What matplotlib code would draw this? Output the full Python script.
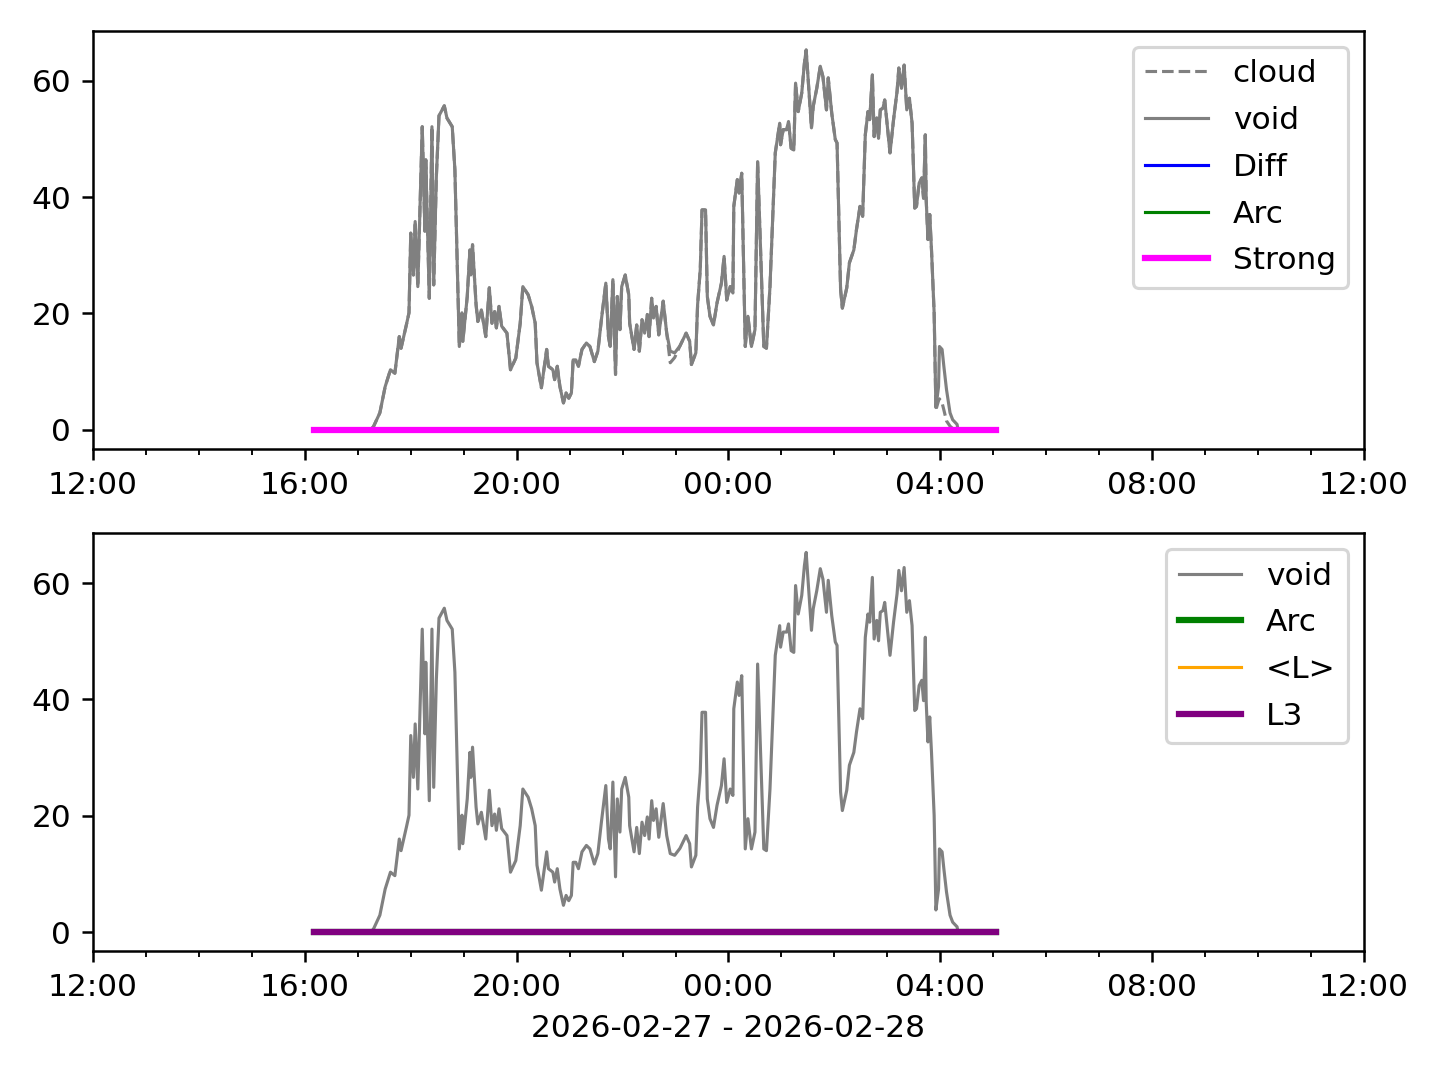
import datetime as dt
import matplotlib
matplotlib.use("Agg")
import matplotlib.pyplot as plt
import matplotlib.dates as mdates

day0 = dt.date(2026, 2, 27)
x_start = "12:00"
x_end = "12:00"

# void series (clock times, next day when hour < 12)
void_times = [
    "17:15", "17:18", "17:25", "17:31", "17:37", "17:42", "17:47", "17:49", "17:55", "17:58",
    "18:00", "18:03", "18:05", "18:08", "18:13", "18:16", "18:17", "18:21", "18:24", "18:26",
    "18:29", "18:32", "18:38", "18:41", "18:47", "18:50", "18:55", "18:58", "18:59", "19:04",
    "19:07", "19:08", "19:10", "19:14", "19:16", "19:20", "19:25", "19:29", "19:32", "19:35",
    "19:37", "19:40", "19:43", "19:49", "19:53", "19:59", "20:04", "20:07", "20:13", "20:17",
    "20:21", "20:23", "20:28", "20:34", "20:36", "20:41", "20:43", "20:46", "20:49", "20:53",
    "20:56", "20:59", "21:02", "21:04", "21:07", "21:10", "21:14", "21:19", "21:23", "21:28",
    "21:32", "21:36", "21:41", "21:44", "21:46", "21:49", "21:52", "21:54", "21:57", "21:59",
    "22:03", "22:07", "22:08", "22:13", "22:16", "22:19", "22:22", "22:25", "22:28", "22:30",
    "22:33", "22:35", "22:38", "22:41", "22:46", "22:50", "22:54", "22:59", "23:05", "23:12",
    "23:16", "23:18", "23:23", "23:25", "23:28", "23:30", "23:34", "23:36", "23:39", "23:43",
    "23:47", "23:52", "23:55", "23:58", "00:02", "00:05", "00:06", "00:10", "00:12", "00:15",
    "00:19", "00:22", "00:26", "00:30", "00:33", "00:40", "00:43", "00:47", "00:53", "00:58",
    "00:59", "01:02", "01:06", "01:08", "01:11", "01:14", "01:16", "01:19", "01:23", "01:26",
    "01:28", "01:34", "01:36", "01:40", "01:44", "01:47", "01:51", "01:53", "01:57", "02:01",
    "02:03", "02:07", "02:09", "02:14", "02:17", "02:22", "02:25", "02:29", "02:32", "02:35",
    "02:38", "02:40", "02:43", "02:45", "02:48", "02:50", "02:52", "02:55", "02:57", "03:00",
    "03:03", "03:07", "03:11", "03:13", "03:16", "03:19", "03:22", "03:25", "03:28", "03:31",
    "03:33", "03:36", "03:39", "03:41", "03:43", "03:44", "03:46", "03:48", "03:50", "03:53",
    "03:55", "03:58", "03:59", "04:02", "04:04", "04:07", "04:11", "04:14", "04:19", "04:20",
]
void_values = [
    0.0, 0.6, 2.9, 7.4, 10.3, 9.7, 16.0, 14.0, 18.0, 20.1,
    33.8, 26.6, 35.8, 24.6, 52.1, 34.1, 46.4, 22.6, 52.1, 24.9,
    43.5, 54.0, 55.7, 53.6, 52.1, 44.7, 14.3, 20.1, 15.2, 22.9,
    30.9, 26.6, 31.8, 21.5, 18.6, 20.6, 16.0, 24.4, 18.3, 20.3,
    17.5, 21.2, 17.8, 16.6, 10.3, 12.3, 18.3, 24.6, 23.2, 21.2,
    18.3, 11.5, 7.2, 13.8, 10.9, 10.3, 8.6, 10.9, 7.4, 4.6,
    6.3, 5.4, 6.3, 12.0, 12.0, 10.9, 13.8, 14.9, 14.3, 11.7,
    13.5, 18.9, 25.2, 16.0, 14.3, 25.8, 9.5, 22.9, 17.2, 24.6,
    26.6, 23.2, 18.3, 13.8, 18.0, 13.5, 18.9, 16.6, 19.8, 16.0,
    22.6, 19.2, 21.2, 16.3, 22.1, 16.6, 13.5, 13.2, 14.4, 16.6,
    15.2, 11.2, 13.2, 21.5, 27.5, 37.8, 37.8, 22.9, 19.5, 18.0,
    21.8, 25.2, 29.8, 22.3, 24.6, 23.5, 38.4, 43.0, 40.7, 44.1,
    14.3, 19.5, 14.3, 17.2, 46.1, 14.3, 14.0, 24.6, 47.6, 52.7,
    49.0, 51.6, 51.6, 53.0, 48.4, 48.1, 59.6, 54.7, 57.9, 63.0,
    65.3, 51.9, 55.6, 58.7, 62.5, 60.7, 55.0, 60.5, 54.4, 49.9,
    49.3, 24.1, 20.9, 24.4, 28.7, 30.9, 34.4, 38.4, 36.7, 50.7,
    54.7, 53.3, 61.0, 50.4, 53.6, 50.1, 55.0, 55.3, 56.7, 52.1,
    47.6, 53.3, 58.2, 62.2, 58.7, 62.7, 55.0, 57.0, 52.7, 38.1,
    38.4, 42.4, 43.3, 39.8, 50.7, 39.5, 32.7, 37.0, 30.9, 20.1,
    3.8, 7.4, 14.3, 13.8, 10.9, 6.9, 2.9, 1.7, 0.9, 0.0,
]

# cloud follows void except at these times
cloud_override_times = ["22:54", "22:59", "03:55", "03:58", "03:59", "04:02", "04:04", "04:07", "04:11", "04:14", "04:19"]
cloud_override_values = [11.5, 12.4, 3.4, 5.0, 5.3, 4.6, 3.4, 1.5, 0.6, 0.2, 0.0]

# flat indicator series
flag_times = ["16:10", "05:03"]
diff_values = [0, 0]
arc_values = [0, 0]
strong_values = [0, 0]
l_mean_values = [0, 0]
l3_values = [0, 0]

xlabel = "2026-02-27 - 2026-02-28"


def to_dt(s, end=False):
    h, m = map(int, s.split(":"))
    d = day0 if (h >= 12 and not end) else day0 + dt.timedelta(days=1)
    return dt.datetime(d.year, d.month, d.day, h, m)


vt = [to_dt(s) for s in void_times]
cloud_map = dict(zip(void_times, void_values))
cloud_map.update(dict(zip(cloud_override_times, cloud_override_values)))
cloud_values = [cloud_map[s] for s in void_times]
ft = [to_dt(s) for s in flag_times]

fig, (ax1, ax2) = plt.subplots(2, 1, figsize=(6.4, 4.8), dpi=225)

ax1.plot(vt, cloud_values, color="grey", ls="--", lw=1, label="cloud")
ax1.plot(vt, void_values, color="grey", lw=1, label="void")
ax1.plot(ft, diff_values, color="blue", lw=1, label="Diff")
ax1.plot(ft, arc_values, color="green", lw=1, label="Arc")
ax1.plot(ft, strong_values, color="magenta", lw=2, label="Strong")

ax2.plot(vt, void_values, color="grey", lw=1, label="void")
ax2.plot(ft, arc_values, color="green", lw=2, label="Arc")
ax2.plot(ft, l_mean_values, color="orange", lw=1, label="<L>")
ax2.plot(ft, l3_values, color="purple", lw=2, label="L3")

for ax in (ax1, ax2):
    ax.set_xlim(to_dt(x_start), to_dt(x_end, end=True))
    ax.xaxis.set_major_locator(mdates.HourLocator(byhour=range(0, 24, 4)))
    ax.xaxis.set_minor_locator(mdates.HourLocator())
    ax.xaxis.set_major_formatter(mdates.DateFormatter("%H:%M"))
    ax.legend(loc="upper right", labelspacing=0.57)

ax2.set_xlabel(xlabel)

plt.subplots_adjust(left=0.0646, right=0.9472, top=0.9713, bottom=0.1194, hspace=0.203)
plt.savefig("out.png")
